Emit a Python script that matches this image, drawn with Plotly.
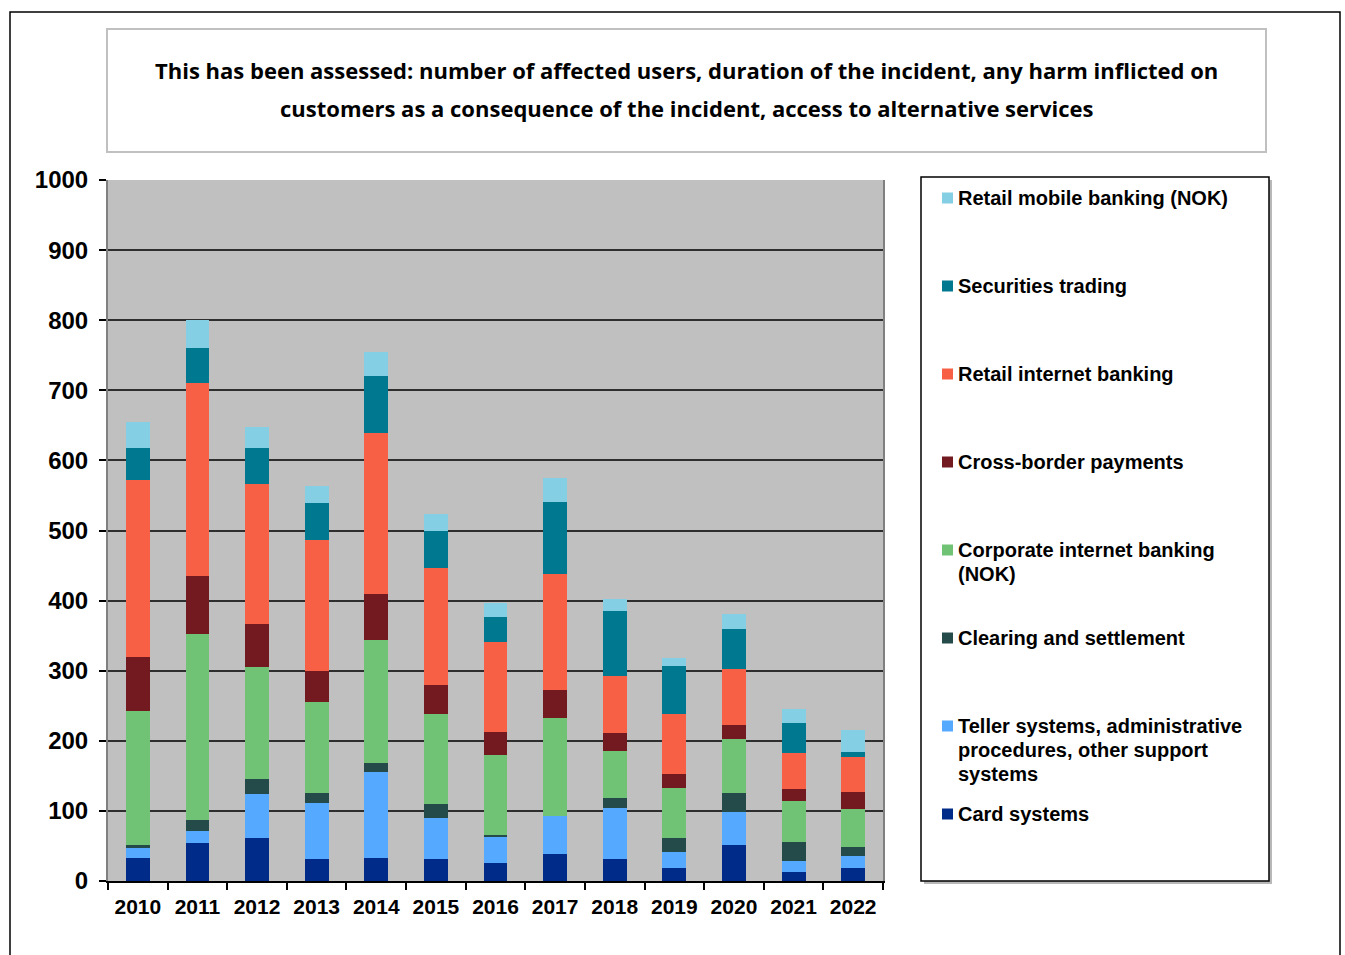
import plotly.graph_objects as go

# Incident counts per year, stacked by affected service
years = ["2010", "2011", "2012", "2013", "2014", "2015", "2016",
         "2017", "2018", "2019", "2020", "2021", "2022"]

card_systems = [33, 54, 61, 31, 33, 31, 26, 38, 32, 18, 51, 13, 18]
teller_systems = [14, 18, 63, 80, 123, 59, 37, 55, 72, 24, 48, 16, 17]
clearing_settlement = [4, 15, 22, 14, 13, 20, 2, 0, 14, 20, 27, 27, 13]
corporate_internet = [192, 266, 159, 131, 175, 128, 115, 139, 67, 70, 77, 58, 55]
cross_border = [77, 82, 61, 43, 65, 42, 33, 40, 26, 20, 20, 17, 24]
retail_internet = [252, 275, 201, 187, 230, 166, 128, 166, 82, 86, 79, 51, 50]
securities_trading = [45, 51, 51, 53, 82, 54, 36, 103, 92, 68, 57, 43, 7]
retail_mobile = [38, 40, 29, 24, 34, 23, 20, 34, 18, 12, 22, 20, 32]

# Bottom-to-top stacking order; legend labels wrapped into lines
series = [
    (["Card systems"], card_systems, "#002B88"),
    (["Teller systems, administrative", "procedures, other support", "systems"], teller_systems, "#55AAFF"),
    (["Clearing and settlement"], clearing_settlement, "#254A4A"),
    (["Corporate internet banking", "(NOK)"], corporate_internet, "#70C275"),
    (["Cross-border payments"], cross_border, "#731A21"),
    (["Retail internet banking"], retail_internet, "#F76045"),
    (["Securities trading"], securities_trading, "#007890"),
    (["Retail mobile banking (NOK)"], retail_mobile, "#84CFE3"),
]

title_lines = [
    "This has been assessed: number of affected users, duration of the incident, any harm inflicted on",
    "customers as a consequence of the incident, access to alternative services",
]

W, H = 1345, 955
PL, PR, PT, PB = 108, 883, 180, 881  # plot area in pixels


def px_x(px):
    return (px - PL) / (PR - PL)


def px_y(py):
    return (PB - py) / (PB - PT)


fig = go.Figure()
for lines, vals, color in series:
    fig.add_trace(go.Bar(
        x=years, y=vals, name=" ".join(lines),
        marker=dict(color=color, line=dict(width=0)),
        showlegend=False,
    ))

shapes = []
annotations = []

# Outer frame of the whole chart
shapes.append(dict(type="rect", xref="paper", yref="paper",
                   x0=px_x(10), x1=px_x(1340), y0=px_y(990), y1=px_y(12),
                   line=dict(color="#000000", width=1.5), fillcolor="rgba(0,0,0,0)", layer="below"))

# Heading box
shapes.append(dict(type="rect", xref="paper", yref="paper",
                   x0=px_x(107), x1=px_x(1266), y0=px_y(152), y1=px_y(29),
                   line=dict(color="#C0C0C0", width=2), fillcolor="white"))
for k, line in enumerate(title_lines):
    annotations.append(dict(xref="paper", yref="paper", x=px_x(686.5), y=px_y(70 + 38 * k),
                            text=line, showarrow=False, xanchor="center", yanchor="middle",
                            font=dict(family="Open Sans", size=22, color="#000000", weight="bold")))

# Legend box with shadow
shapes.append(dict(type="rect", xref="paper", yref="paper",
                   x0=px_x(924), x1=px_x(1272), y0=px_y(884), y1=px_y(180),
                   line=dict(width=0), fillcolor="#B8B8B8"))
shapes.append(dict(type="rect", xref="paper", yref="paper",
                   x0=px_x(921), x1=px_x(1269), y0=px_y(881), y1=px_y(177),
                   line=dict(color="#000000", width=1.5), fillcolor="white"))

legend_top = 198
legend_step = 88
line_step = 24
for i, (lines, vals, color) in enumerate(reversed(series)):
    cy = legend_top + i * legend_step
    shapes.append(dict(type="rect", xref="paper", yref="paper",
                       x0=px_x(942), x1=px_x(953), y0=px_y(cy + 5.5), y1=px_y(cy - 5.5),
                       line=dict(width=0), fillcolor=color))
    for k, line in enumerate(lines):
        annotations.append(dict(xref="paper", yref="paper", x=px_x(956), y=px_y(cy + k * line_step),
                                text=line, showarrow=False, xanchor="left", yanchor="middle",
                                font=dict(family="Liberation Sans", size=20, color="#000000", weight="bold")))

fig.update_layout(
    width=W, height=H,
    margin=dict(l=PL, r=W - PR, t=PT, b=H - PB, pad=0),
    barmode="stack",
    bargap=0.6,
    paper_bgcolor="white",
    plot_bgcolor="#C0C0C0",
    shapes=shapes,
    annotations=annotations,
    xaxis=dict(
        type="category",
        showgrid=False,
        showline=True, linecolor="#000000", linewidth=1.5,
        ticks="outside", tickson="boundaries", ticklen=7, tickcolor="#000000", tickwidth=1.5,
        ticklabelstandoff=6,
        tickfont=dict(family="Liberation Sans", size=21, color="#000000", weight="bold"),
    ),
    yaxis=dict(
        range=[0, 1000], dtick=100, tick0=0,
        showgrid=True, gridcolor="#2E2E2E", gridwidth=1.5,
        zeroline=False,
        showline=True, linecolor="#808080", linewidth=2, mirror=True,
        ticks="outside", ticklen=7, tickcolor="#000000", tickwidth=1.5,
        ticklabelstandoff=6,
        tickfont=dict(family="Liberation Sans", size=24, color="#000000", weight="bold"),
    ),
)

fig.write_html("out.html")
